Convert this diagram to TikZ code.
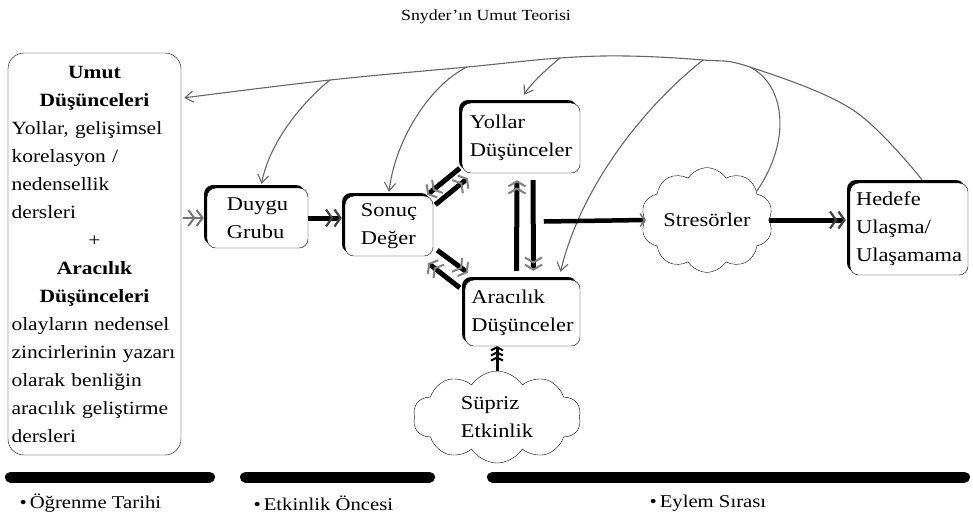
\documentclass[tikz,border=0pt]{standalone}
\usepackage{fontspec}
\setmainfont{Liberation Serif}[FakeStretch=1.15]
\usetikzlibrary{arrows.meta,calc,shapes.symbols,shadows}

\tikzset{
  box/.style={draw, fill=white, rounded corners=9pt, align=left, inner sep=0pt,
    font=\fontsize{19.5}{28}\selectfont,
    drop shadow={shadow xshift=-3pt, shadow yshift=3pt, fill=black, opacity=1}},
  bigbox/.style={draw, fill=white, rounded corners=16pt, align=left, text width=166pt,
    inner xsep=3.5pt, minimum height=402pt, font=\fontsize{18.7}{28}\selectfont},
  puff/.style={cloud, draw, fill=white, cloud puffs=10, cloud puff arc=115, aspect=1.4,
    inner sep=0pt, align=left, font=\fontsize{19.5}{28}\selectfont},
  lbl/.style={font=\fontsize{18}{22}\selectfont},
  fb/.style={draw=black!60, line width=1.1pt,
    -{Straight Barb[length=8pt,width=11pt,line width=1.1pt]}},
  fbline/.style={draw=black!60, line width=1.1pt},
  chev/.style={line width=1.5pt, draw=black!55,
    -{Straight Barb[length=6pt,width=16pt,line width=2pt] Straight Barb[length=6pt,width=16pt,line width=2pt]}},
  heavy/.style={line width=5pt,
    -{Straight Barb[length=6pt,width=17pt,line width=2.2pt,color=black!75] Straight Barb[length=6pt,width=17pt,line width=2.2pt,color=black!75]}},
  hollow/.style={line width=5pt,
    -{Straight Barb[length=5pt,width=17pt,line width=2pt,color=black!50] Straight Barb[length=5pt,width=17pt,line width=2pt,color=black!50]}},
  single/.style={line width=4.5pt,
    -{Straight Barb[length=4pt,width=13pt,line width=1.5pt,color=black!55]}},
  spring/.style={line width=3pt,
    -{Straight Barb[length=3pt,width=12pt,line width=2pt] Straight Barb[length=3pt,width=12pt,line width=2pt] Straight Barb[length=3pt,width=12pt,line width=2pt]}},
  bar/.style={line width=11pt, line cap=round}
}

\begin{document}
\begin{tikzpicture}[x=1pt,y=1pt,yscale=-1]
\useasboundingbox (0,0) rectangle (973,523);

\node (ttl) at (486,17) [font=\fontsize{15.5}{18}\selectfont] {Snyder'ın Umut Teorisi};

% boxes and clouds
\node (umut) at (94.5,254) [bigbox] {%
\makebox[\hsize]{\textbf{Umut}}\\
\makebox[\hsize]{\textbf{Düşünceleri}}\\
Yollar, gelişimsel\\
korelasyon /\\
nedensellik\\
dersleri\\
\makebox[\hsize]{+}\\
\makebox[\hsize]{\textbf{Aracılık}}\\
\makebox[\hsize]{\textbf{Düşünceleri}}\\
olayların nedensel\\
zincirlerinin yazarı\\
olarak benliğin\\
aracılık geliştirme\\
dersleri};
\node (duygu) at (257.5,218) [box, minimum width=101pt, minimum height=60pt] {Duygu\\Grubu};
\node (sonuc) at (389,226) [box, minimum width=88pt, minimum height=60pt] {Sonuç\\Değer};
\node (yollar) at (521,138) [box, minimum width=118pt, minimum height=70pt] {Yollar\\Düşünceler};
\node (aracilik) at (522.5,313) [box, minimum width=115pt, minimum height=66pt] {Aracılık\\Düşünceler};
\node (hedefe) at (909,229) [box, minimum width=118pt, minimum height=92pt] {Hedefe\\Ulaşma/\\Ulaşamama};
\node (stres) at (707,220) [puff, minimum width=130pt, minimum height=98pt] {Stresörler};
\node (supriz) at (497,417) [puff, minimum width=168pt, minimum height=92pt] {Süpriz\\Etkinlik};

% feedback arc
\coordinate (j1) at (330,80);
\coordinate (j2) at (467,67);
\coordinate (j3) at (560,58);
\coordinate (j4) at (703,60);
\coordinate (j5) at (750,67);
\coordinate (hout) at ($(hedefe.north)+(13,-3)$);
\coordinate (uin) at ($(umut.north east)+(3,45)$);
\draw[fb] plot[smooth, tension=0.6] coordinates {(hout) (853,110) (j5) (j4) (627,56) (j3) (j2) (j1) (uin)};
\draw[fb] (j1) .. controls (305,100) and (270,140) .. ($(duygu.north)+(4,-4)$);
\draw[fb] (j2) .. controls (430,85) and (395,140) .. ($(sonuc.north)+(0,-4)$);
\draw[fb] (j3) .. controls (548,68) and (532,82) .. ($(yollar.north)+(3,-8)$);
\draw[fb] (j4) .. controls (640,110) and (580,190) .. ($(aracilik.north)+(38,-8)$);
\draw[fbline] (stres.30) .. controls (792,140) and (785,85) .. (j5);

% heavy arrows
\draw[chev] ($(umut.east |- duygu.west)+(2,0)$) -- ($(duygu.west)+(-3,0)$);
\draw[heavy] (duygu.east) -- ($(duygu.east -| sonuc.west)+(-3,0)$);
\draw[hollow] ($(sonuc.north east)+(2,9)$) -- ($(yollar.south west)+(6,5)$);
\draw[hollow] ($(yollar.south west)+(-2,-5)$) -- ($(sonuc.north east)+(-6,-1)$);
\draw[hollow] ($(sonuc.south east)+(4,-6)$) -- ($(aracilik.north west)+(3,-7)$);
\draw[hollow] ($(aracilik.north west)+(-5,8)$) -- ($(sonuc.south east)+(-5,7)$);
\coordinate (ya) at ($(yollar.south)!0.5!(aracilik.north)$);
\draw[hollow] ($(aracilik.north)+(-6,-9)$) -- ($(yollar.south)+(-4,7)$);
\draw[hollow] ($(yollar.south)+(12,7)$) -- ($(aracilik.north)+(11,-9)$);
\draw[single] ($(ya)+(22,-5)$) -- (stres.west);
\draw[heavy] (stres.east) -- ($(stres.east -| hedefe.west)+(-4,0)$);
\draw[spring] (supriz.north) -- (supriz.north |- aracilik.south);

% time line
\draw[bar] (10.5,477) -- (209.5,477);
\draw[bar] (245.5,477) -- (429.5,477);
\draw[bar] (492.5,477) -- (964.5,477);
\node (lt1) at (16,503) [anchor=west, lbl] {\textbullet\,Öğrenme Tarihi};
\node (lt2) at (250,503) [anchor=west, lbl] {\textbullet\,Etkinlik Öncesi};
\node (lt3) at (646,503) [anchor=west, lbl] {\textbullet\,Eylem Sırası};
\end{tikzpicture}
\end{document}
